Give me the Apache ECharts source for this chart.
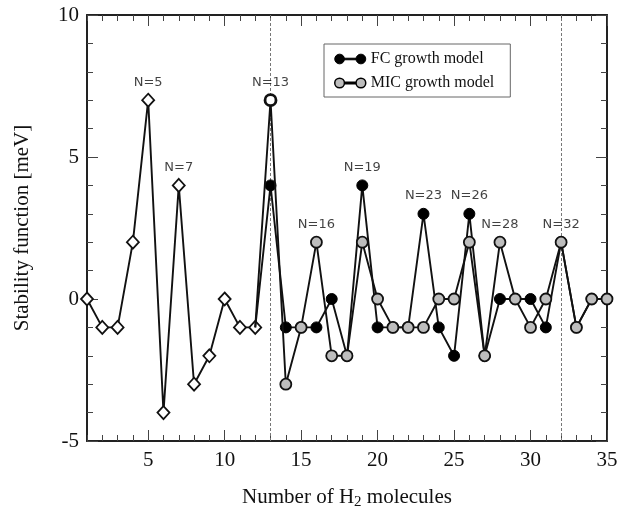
<!DOCTYPE html>
<html>
<head>
<meta charset="utf-8">
<script src="https://cdn.jsdelivr.net/npm/echarts@6/dist/echarts.min.js"></script>
<style>html,body{margin:0;padding:0;background:#fff;}#c{width:631px;height:521px;}</style>
</head>
<body>
<div id="c"></div>
<script>
// Common part (N = 1..12), drawn with diamonds
const commonN = [1,2,3,4,5,6,7,8,9,10,11,12];
const commonV = [0,-1,-1,2,7,-4,4,-3,-2,0,-1,-1];
// Growth models (N = 12..35)
const modelN = [12,13,14,15,16,17,18,19,20,21,22,23,24,25,26,27,28,29,30,31,32,33,34,35];
const fcV    = [-1,4,-1,-1,-1,0,-2,4,-1,-1,-1,3,-1,-2,3,-2,0,0,0,-1,2,-1,0,0];
const micV   = [-1,7,-3,-1,2,-2,-2,2,0,-1,-1,-1,0,0,2,-2,2,0,-1,0,2,-1,0,0];
// Annotated magic numbers
const annoN = [5,7,13,16,19,23,26,28,32];
const annoV = [7,4,7,2,4,3,3,2,2];
const vLines = [13,32];
const xMajor = [5,10,15,20,25,30,35];
const xMinor = Array.from({length:35},(_, i)=>i+1);

const serif = 'Liberation Serif';
const chart = echarts.init(document.getElementById('c'));

function xAx(pos, ticks, len, showLine, labels){
  return {
    type:'value', min:1, max:35, position:pos,
    axisLine:{show:showLine, onZero:false, lineStyle:{color:'#222', width:2}},
    axisTick:{show:true, inside:true, length:len, customValues:ticks, lineStyle:{color:'#444', width:1}},
    axisLabel:labels ? {show:true, customValues:xMajor, fontFamily:serif, fontSize:21, color:'#111', margin:9} : {show:false},
    splitLine:{show:false}
  };
}

const legendIcon = 'path://M0,5a5,5 0 1,0 10,0a5,5 0 1,0 -10,0z M22,5a5,5 0 1,0 10,0a5,5 0 1,0 -10,0z M10,4.2h12v1.6h-12z';

chart.setOption({
  animation:false,
  grid:{left:87, right:24, top:15, bottom:80},
  legend:{
    orient:'vertical', left:324, top:44, width:170,
    backgroundColor:'#fff', borderColor:'#666', borderWidth:1,
    padding:[7,16,6,10], itemGap:8, itemWidth:31, itemHeight:10,
    textStyle:{fontFamily:serif, fontSize:16, color:'#111'},
    data:[
      {name:'FC growth model', icon:legendIcon, itemStyle:{color:'#000', borderColor:'#000', borderWidth:1}},
      {name:'MIC growth model', icon:legendIcon, itemStyle:{color:'#bdbdbd', borderColor:'#000', borderWidth:1.5}}
    ]
  },
  xAxis:[
    Object.assign(xAx('bottom', xMinor, 6, true, true), {
      name:'{a|Number of H}{s|2}{a| molecules}', nameLocation:'middle', nameGap:44,
      nameTextStyle:{rich:{a:{fontFamily:serif, fontSize:21, color:'#111'}, s:{fontFamily:serif, fontSize:15, color:'#111', padding:[10,0,0,0]}}}
    }),
    xAx('bottom', xMajor, 11, false, false),
    xAx('top', xMinor, 6, true, false),
    xAx('top', xMajor, 11, false, false)
  ],
  yAxis:[
    {type:'value', min:-5, max:10, interval:5, position:'left',
     name:'Stability function [meV]', nameLocation:'middle', nameGap:54, nameRotate:90,
     nameTextStyle:{fontFamily:serif, fontSize:21, color:'#111'},
     axisLine:{show:true, onZero:false, lineStyle:{color:'#222', width:2}},
     axisTick:{show:true, inside:true, length:11, lineStyle:{color:'#444'}},
     minorTick:{show:true, splitNumber:5, length:6, lineStyle:{color:'#444'}},
     axisLabel:{fontFamily:serif, fontSize:21, color:'#111', margin:8},
     splitLine:{show:false}},
    {type:'value', min:-5, max:10, interval:5, position:'right',
     axisLine:{show:true, onZero:false, lineStyle:{color:'#222', width:2}},
     axisTick:{show:true, inside:true, length:11, lineStyle:{color:'#444'}},
     minorTick:{show:true, splitNumber:5, length:6, lineStyle:{color:'#444'}},
     axisLabel:{show:false}, splitLine:{show:false}}
  ],
  series:[
    {type:'line', name:'guides', data:[], silent:true,
     markLine:{symbol:'none', silent:true, label:{show:false},
       lineStyle:{type:[3,2], color:'#777', width:1},
       data:vLines.map(v=>({xAxis:v}))}},
    {type:'line', name:'common', z:4,
     data:commonN.map((n,i)=>[n,commonV[i]]),
     symbol:'diamond', symbolSize:[12,13],
     lineStyle:{color:'#111', width:1.9},
     itemStyle:{color:'#fff', borderColor:'#111', borderWidth:1.8}},
    {type:'line', name:'FC growth model', z:5,
     data:modelN.map((n,i)=>({value:[n,fcV[i]], symbol:i===0?'none':'circle'})),
     symbol:'circle', symbolSize:11,
     lineStyle:{color:'#111', width:1.9},
     itemStyle:{color:'#000', borderColor:'#000', borderWidth:1}},
    {type:'line', name:'MIC growth model', z:6,
     data:modelN.map((n,i)=>({value:[n,micV[i]], symbol:i===0?'none':'circle',
       itemStyle:n===13?{color:'#fff', borderWidth:2.8}:undefined})),
     symbol:'circle', symbolSize:11,
     lineStyle:{color:'#111', width:1.9},
     itemStyle:{color:'#bdbdbd', borderColor:'#111', borderWidth:1.8}},
    {type:'scatter', name:'labels', z:7, silent:true,
     data:annoN.map((n,i)=>[n,annoV[i]]),
     symbolSize:1, itemStyle:{color:'rgba(0,0,0,0)'},
     label:{show:true, position:'top', distance:11, fontFamily:'DejaVu Sans', fontSize:13, color:'#111',
       formatter:p=>'N='+p.value[0]}}
  ]
});
</script>
</body>
</html>
